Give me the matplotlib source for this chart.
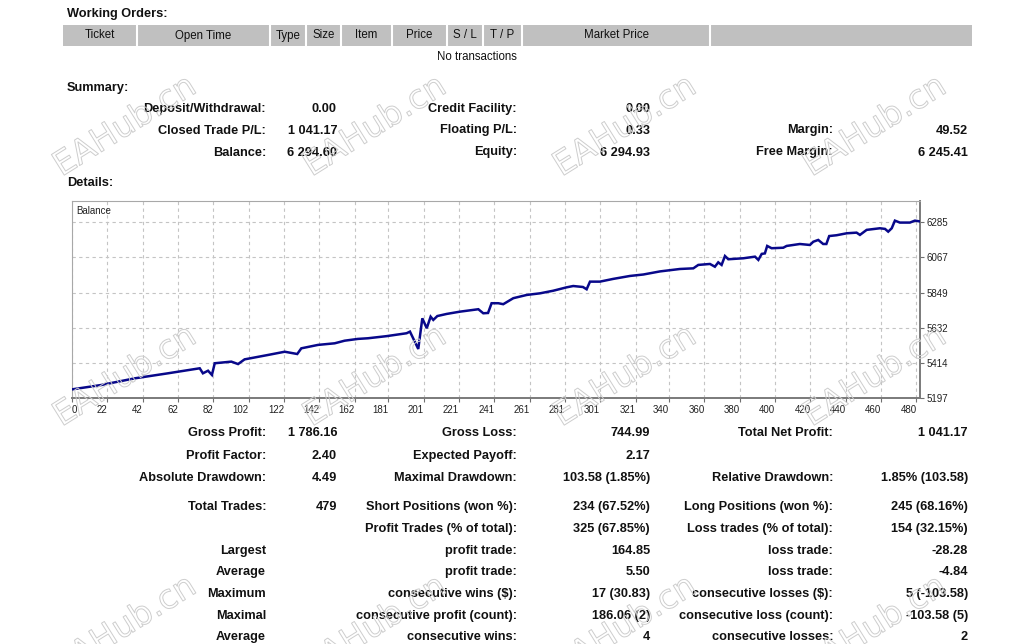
import matplotlib
matplotlib.use("Agg")
import matplotlib.pyplot as plt
import matplotlib.patheffects as pe
from matplotlib.patches import Rectangle

W, H = 1033, 644
FONT = "Liberation Sans"
INK = "#111111"

# balance curve (trade no., balance)
trade_no = [2, 18.6, 37.5, 56.3, 74.3, 76.1, 79, 81.2, 82.8, 92.2, 96, 99.7, 112.9,
            122.4, 129.5, 131.8, 141.2, 150.7, 156.3, 163.8, 169.5, 180, 191.4, 193.3,
            198, 200.3, 202.8, 205, 206.5, 208.8, 214.1, 221.6, 232, 234.8, 237.5,
            239.5, 243.3, 246.1, 251.8, 259.4, 266.9, 274.4, 282, 285.7, 291.2, 293.3,
            295.2, 300.8, 308.4, 317.8, 325.4, 334.8, 346.1, 353.7, 356.5, 363.1,
            365.9, 367.8, 369.7, 371.6, 373.5, 382, 388.6, 390.5, 392.4, 394.2, 395.5,
            398, 404.6, 406.5, 414, 419.7, 421.6, 424.4, 427.2, 429, 430.6, 434.8,
            440.5, 446.1, 448, 451.8, 459.3, 462.2, 464, 466, 467.8, 470.6, 476.3,
            479.1, 482]
balance = [5252, 5279, 5320, 5351, 5382, 5351, 5367, 5341, 5413, 5423, 5408, 5437, 5464,
           5484, 5470, 5505, 5526, 5536, 5552, 5563, 5567, 5580, 5598, 5608,
           5501, 5690, 5629, 5700, 5680, 5704, 5717, 5731, 5746, 5721, 5723,
           5783, 5783, 5777, 5814, 5834, 5844, 5860, 5881, 5889, 5883, 5869,
           5916, 5916, 5933, 5951, 5960, 5979, 5994, 5998, 6019, 6025,
           6008, 6035, 6019, 6074, 6054, 6060, 6070, 6050, 6087, 6090, 6136,
           6122, 6125, 6136, 6148, 6142, 6162, 6173, 6148, 6148, 6197, 6202,
           6214, 6218, 6204, 6235, 6245, 6241, 6224, 6245, 6292, 6280, 6280,
           6292, 6287]

x_tick_labels = ["0", "22", "42", "62", "82", "102", "122", "142", "162", "181", "201",
                 "221", "241", "261", "281", "301", "321", "340", "360", "380", "400",
                 "420", "440", "460", "480"]
y_tick_labels = ["5197", "5414", "5632", "5849", "6067", "6285"]

order_columns = ["Ticket", "Open Time", "Type", "Size", "Item", "Price", "S / L", "T / P",
                 "Market Price", ""]
column_edges = [63, 137, 269.5, 306, 341, 392, 447, 483, 522, 710, 972]

summary_rows = [
    ["Deposit/Withdrawal:", "0.00", "Credit Facility:", "0.00", "", ""],
    ["Closed Trade P/L:", "1 041.17", "Floating P/L:", "0.33", "Margin:", "49.52"],
    ["Balance:", "6 294.60", "Equity:", "6 294.93", "Free Margin:", "6 245.41"],
]
details_rows = [
    ["Gross Profit:", "1 786.16", "Gross Loss:", "744.99", "Total Net Profit:", "1 041.17"],
    ["Profit Factor:", "2.40", "Expected Payoff:", "2.17", "", ""],
    ["Absolute Drawdown:", "4.49", "Maximal Drawdown:", "103.58 (1.85%)",
     "Relative Drawdown:", "1.85% (103.58)"],
    ["Total Trades:", "479", "Short Positions (won %):", "234 (67.52%)",
     "Long Positions (won %):", "245 (68.16%)"],
    ["", "", "Profit Trades (% of total):", "325 (67.85%)",
     "Loss trades (% of total):", "154 (32.15%)"],
    ["Largest", "", "profit trade:", "164.85", "loss trade:", "-28.28"],
    ["Average", "", "profit trade:", "5.50", "loss trade:", "-4.84"],
    ["Maximum", "", "consecutive wins ($):", "17 (30.83)",
     "consecutive losses ($):", "5 (-103.58)"],
    ["Maximal", "", "consecutive profit (count):", "186.06 (2)",
     "consecutive loss (count):", "-103.58 (5)"],
    ["Average", "", "consecutive wins:", "4", "consecutive losses:", "2"],
]
summary_y = [109, 130.5, 152.5]
details_y = [433.3, 455.7, 477.7, 507.3, 528.7, 550.7, 572.3, 594, 615.7, 637]
col_right = [266, 337, 517, 650, 833, 968]


def put(x, y, s, **kw):
    kw.setdefault("family", FONT)
    kw.setdefault("color", INK)
    kw.setdefault("va", "center")
    return fig.text(x / W, 1 - y / H, s, **kw)


fig = plt.figure(figsize=(W / 100, H / 100), dpi=100)
fig.patch.set_facecolor("white")

# section titles
put(67, 14.5, "Working Orders:", weight="bold", size=9.2)
put(67, 87.5, "Summary:", weight="bold", size=9.2)
put(67, 182.5, "Details:", weight="bold", size=9.2)

# grey header bar of working orders
fig.add_artist(Rectangle((column_edges[0] / W, 1 - 45.7 / H),
                         (column_edges[-1] - column_edges[0]) / W, 20.7 / H,
                         transform=fig.transFigure, facecolor="#c0c0c0",
                         edgecolor="none"))
for xe in column_edges[1:-1]:
    fig.add_artist(plt.Line2D([xe / W, xe / W], [1 - 45.7 / H, 1 - 25 / H],
                              transform=fig.transFigure, color="white", lw=1.5))
for i, name in enumerate(order_columns):
    put((column_edges[i] + column_edges[i + 1]) / 2, 35.5, name, ha="center", size=8.3)
put(517, 57.5, "No transactions", ha="right", size=8.3)

for y, row in zip(summary_y, summary_rows):
    for x, s in zip(col_right, row):
        put(x, y, s, ha="right", weight="bold", size=9.2)
for y, row in zip(details_y, details_rows):
    for x, s in zip(col_right, row):
        put(x, y, s, ha="right", weight="bold", size=9.2)

# balance chart
ax = fig.add_axes([72 / W, 1 - 398.3 / H, (920 - 72) / W, (398.3 - 201) / H])
ax.set_facecolor("none")
ax.plot(trade_no, balance, color="#08088a", lw=1.8, solid_joinstyle="miter", zorder=3)
ax.set_xlim(2, 482)
ax.set_ylim(5197, 6413)
x_pos = [max(int(v), 2) for v in x_tick_labels]
ax.set_xticks(x_pos)
ax.set_xticklabels(x_tick_labels)
for i, lab in enumerate(ax.get_xticklabels()):
    lab.set_ha("left" if i == 0 else "right")
ax.set_yticks([int(v) for v in y_tick_labels])
ax.set_yticklabels(y_tick_labels)
ax.yaxis.tick_right()
ax.tick_params(axis="both", direction="out", length=3, width=0.8, color="#707070",
               labelsize=7, labelcolor="#222222", pad=2)
for lab in ax.get_xticklabels() + ax.get_yticklabels():
    lab.set_family(FONT)
ax.grid(True, color="#c4c4c4", lw=0.8, ls=(0, (3, 3)))
for side in ["left", "top"]:
    ax.spines[side].set_color("#a8a8a8")
    ax.spines[side].set_linewidth(0.8)
for side in ["right", "bottom"]:
    ax.spines[side].set_color("#7a7a7a")
    ax.spines[side].set_linewidth(1.4)
ax.text(0.005, 0.95, "Balance", transform=ax.transAxes, ha="left", va="center",
        family=FONT, size=7, color="#222222")

# watermark
for cy in [126, 376, 626]:
    for cx in [125, 375, 625, 875]:
        put(cx, cy, "EAHub.cn", ha="center", rotation=32, rotation_mode="anchor",
            family="DejaVu Sans", size=24, color=(1, 1, 1, 0), zorder=10,
            path_effects=[pe.Stroke(linewidth=0.7, foreground="#cdcdcd")])

fig.savefig("out.png", dpi=100)
